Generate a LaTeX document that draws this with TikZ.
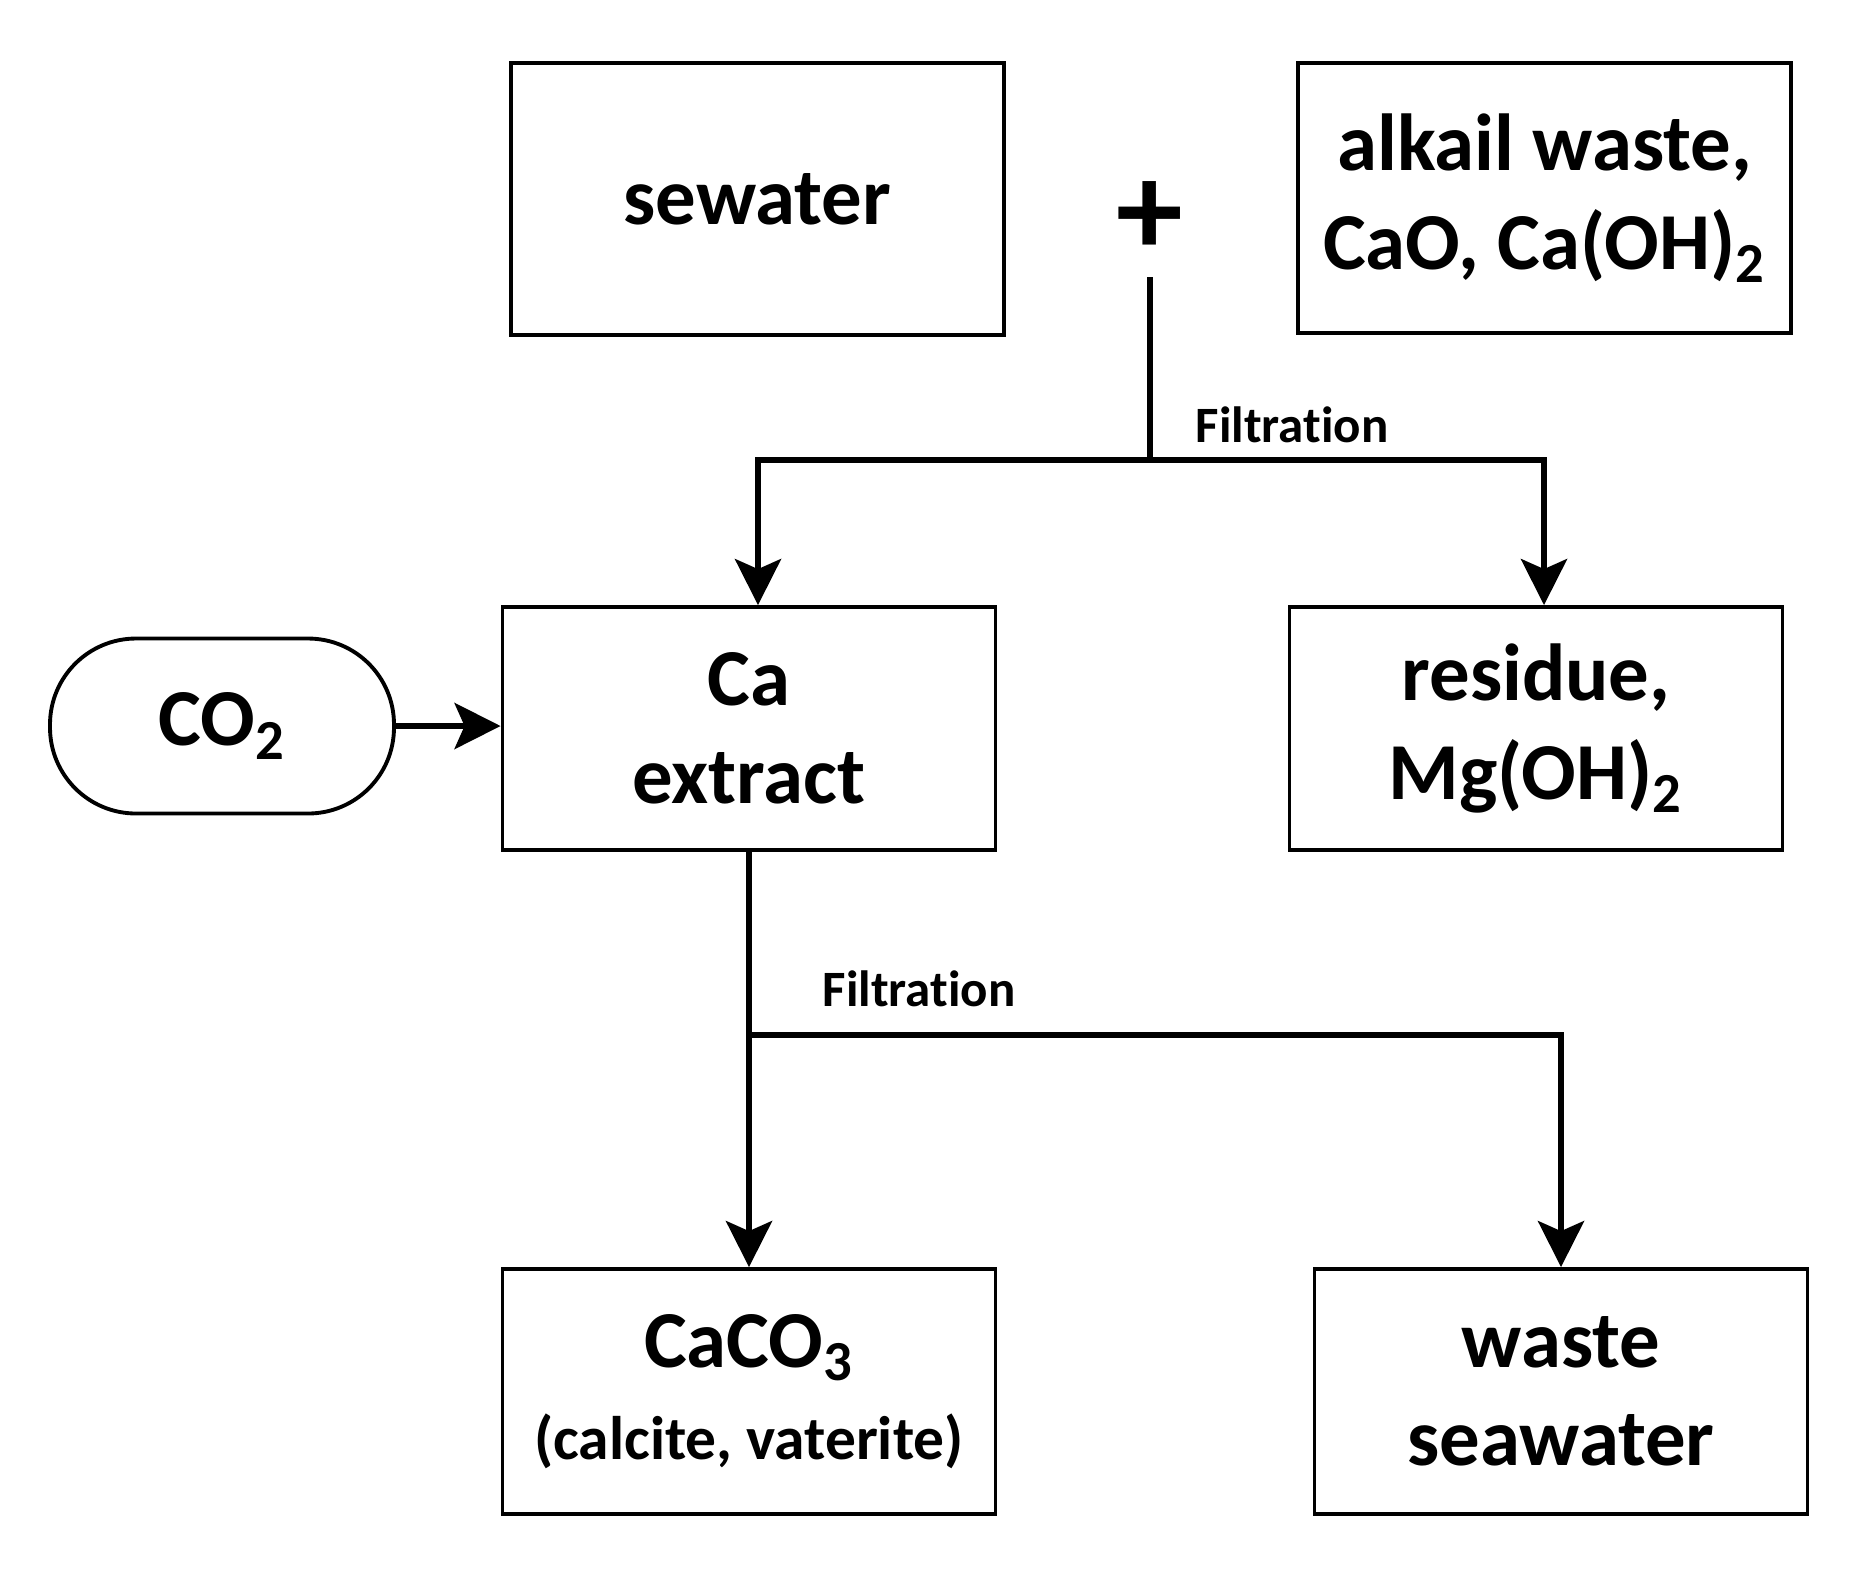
\documentclass[tikz,border=0pt]{standalone}
\usepackage{fontspec}
\setmainfont{Carlito}[Ligatures=NoCommon]
\usetikzlibrary{arrows.meta,positioning}

\begin{document}
\begin{tikzpicture}[
    box/.style={draw, line width=1.1pt, minimum width=4.93cm, minimum height=2.45cm, align=center, font=\bfseries\fontsize{23}{28}\selectfont},
    pill/.style={draw, line width=1.1pt, rounded corners=0.86cm, minimum width=3.44cm, minimum height=1.75cm, font=\bfseries\fontsize{23}{28}\selectfont},
    filt/.style={font=\bfseries\fontsize{14.5}{17}\selectfont, inner sep=0pt},
    flow/.style={line width=1.7pt, -{Stealth[length=4.6mm, width=4.6mm, inset=1mm]}},
    link/.style={line width=1.7pt}
]
\useasboundingbox (0,0) rectangle (18.74,-15.81);

    %top row
        \node[box, minimum height=2.72cm] (sewater) at (7.575,-1.99) {sewater};
        \node[box, minimum height=2.70cm] (alkali) at (15.445,-1.98) {alkail waste,\\CaO, Ca(OH)\textsubscript{2}};
        \node[font=\bfseries\fontsize{38}{40}\selectfont, inner sep=0pt] (plus) at (11.50,-2.19) {+};
        \coordinate (mix) at (11.50,-2.77);
        \coordinate (split1) at (11.50,-4.60);

    %middle row
        \node[box, minimum height=2.43cm] (caext) at (7.49,-7.285) {Ca\\extract};
        \node[box, minimum height=2.43cm] (residue) at (15.36,-7.285) {residue,\\Mg(OH)\textsubscript{2}};
        \node[pill] (co2) at (2.22,-7.26) {CO\textsubscript{2}};
        \coordinate (split2) at (7.49,-10.35);

    %bottom row
        \node[box] (caco3) at (7.49,-13.915) {CaCO\textsubscript{3}\\[-2pt]{\fontsize{17.5}{22}\selectfont (calcite, vaterite)}};
        \node[box] (waste) at (15.61,-13.915) {waste\\seawater};

    %connectors
        \draw[link] (mix) -- (split1);
        \draw[flow] (split1) -| ([xshift=0.09cm]caext.north);
        \draw[flow] (split1) -| ([xshift=0.08cm]residue.north);
        \draw[flow] (co2.east) -- (co2.east -| caext.west);
        \draw[flow] (caext) -- (caco3);
        \draw[flow] (split2) -| (waste.north);

        \node[filt, anchor=base west] (filt1) at (11.95,-4.42) {Filtration};
        \node[filt, anchor=base west] (filt2) at (8.22,-10.06) {Filtration};

\end{tikzpicture}
\end{document}
